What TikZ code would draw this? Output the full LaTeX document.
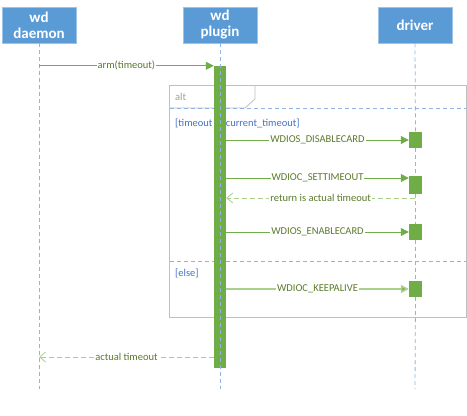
\documentclass[tikz,border=0pt]{standalone}
\usepackage{fontspec}
\setmainfont{Carlito}
\usetikzlibrary{arrows.meta}
\definecolor{hdr}{HTML}{5B9BD5}
\definecolor{hdredge}{HTML}{9DC3E6}
\definecolor{act}{HTML}{70AD47}
\definecolor{actlight}{HTML}{A9D18E}
\definecolor{lbl}{HTML}{5A7A2A}
\definecolor{life}{HTML}{8FB4E3}
\definecolor{frm}{HTML}{BFBFBF}
\definecolor{altc}{HTML}{A0A0A0}
\definecolor{guard}{HTML}{4472C4}
\tikzset{
  head/.style={fill=hdr, draw=hdredge, line width=0.6pt, text=white, font=\bfseries\fontsize{15}{16}\selectfont, minimum width=74pt, minimum height=36pt, align=center, inner sep=0pt},
  lifeline/.style={draw=life, line width=0.8pt, dash pattern=on 4pt off 3pt},
  actbar/.style={fill=act, draw=none, inner sep=0pt, minimum width=12pt},
  drvbox/.style={fill=act, draw=none, inner sep=0pt, minimum width=13pt, minimum height=16pt},
  msg/.style={draw=act, line width=1pt, -{Triangle[length=8pt,width=8pt]}},
  msglight/.style={draw=actlight, line width=1.6pt, -{Triangle[length=8pt,width=8pt,fill=act]}},
  ret/.style={draw=actlight, line width=1pt, dash pattern=on 5pt off 3pt, -{Straight Barb[length=6pt,width=10pt,line width=0.8pt]}},
  lab/.style={fill=white, inner sep=1pt, text=lbl, font=\fontsize{10.5}{12}\selectfont},
  sep/.style={draw=life, line width=0.8pt, dash pattern=on 4pt off 3pt},
  frame/.style={draw=frm, line width=1.2pt},
}
\begin{document}
\begin{tikzpicture}[x=1pt,y=-1pt]
\useasboundingbox (0,0) rectangle (467,416);
% headers
\node[head] (daemon) at (39,25) {wd\\daemon};
\node[head] (plugin) at (220,25) {wd\\plugin};
\node[head] (driver) at (415,25) {driver};
\coordinate (dEnd) at (39,389);
\coordinate (pEnd) at (220,389);
\coordinate (vEnd) at (415,389);
% alt frame
\node[draw=none, inner sep=0pt, minimum width=296pt, minimum height=231pt] (alt) at (318,201.5) {};
\draw[frame] (alt.north west) rectangle (alt.south east);
\draw[frame, line width=0.8pt] (170,108) -- (245,108) -- (255,99) -- (255,86);
\node[anchor=west, text=altc, font=\fontsize{10.5}{12}\selectfont, inner sep=0pt] (altlab) at (175,97) {alt};
\coordinate (s1) at (170,108);
\coordinate (s2) at (170,261);
\draw[sep] (s1) -- (s1 -| alt.east);
\draw[sep] (s2) -- (s2 -| alt.east);
\node[anchor=west, text=guard, font=\fontsize{10.5}{12}\selectfont, inner sep=0pt] (g1) at (175,123) {[timeout != current\_timeout]};
\node[anchor=west, text=guard, font=\fontsize{10.5}{12}\selectfont, inner sep=0pt] (g2) at (175,273) {[else]};
% activation bars
\node[actbar, minimum height=302pt] (pa) at (220,217) {};
\node[drvbox] (b1) at (415.5,140) {};
\node[drvbox, minimum height=18pt] (b2) at (415.5,185) {};
\node[drvbox] (b3) at (415.5,232) {};
\node[drvbox] (b4) at (415.5,289) {};
% lifelines
\draw[lifeline] (daemon.south) -- (dEnd);
\draw[lifeline] (plugin.south) -- (pEnd);
\draw[lifeline] (driver.south) -- (b1.north);
\draw[lifeline] (b1.south) -- (b2.north);
\draw[lifeline] (b2.south) -- (b3.north);
\draw[lifeline] (b3.south) -- (b4.north);
\draw[lifeline] (b4.south) -- (vEnd);
% messages
\draw[msg] (daemon.south |- pa.north) -- node[lab] {arm(timeout)} (pa.north west);
\draw[msg] (pa.east |- b1.west) -- node[lab] {WDIOS\_DISABLECARD} (b1.west);
\draw[msg] (pa.east |- b2.west) ++(0,-7) coordinate (m2s) -- node[lab] {WDIOC\_SETTIMEOUT} (m2s -| b2.west);
\coordinate (r2) at (415,198);
\draw[ret] (r2) -- node[lab] {return is actual timeout} (r2 -| pa.east);
\draw[msg] (pa.east |- b3.west) -- node[lab] {WDIOS\_ENABLECARD} (b3.west);
\draw[msglight] (pa.east |- b4.west) -- node[lab] {WDIOC\_KEEPALIVE} (b4.west);
\coordinate (r5) at (214,357);
\draw[ret] (r5) -- node[lab] {actual timeout} (r5 -| daemon.south);
\end{tikzpicture}
\end{document}
